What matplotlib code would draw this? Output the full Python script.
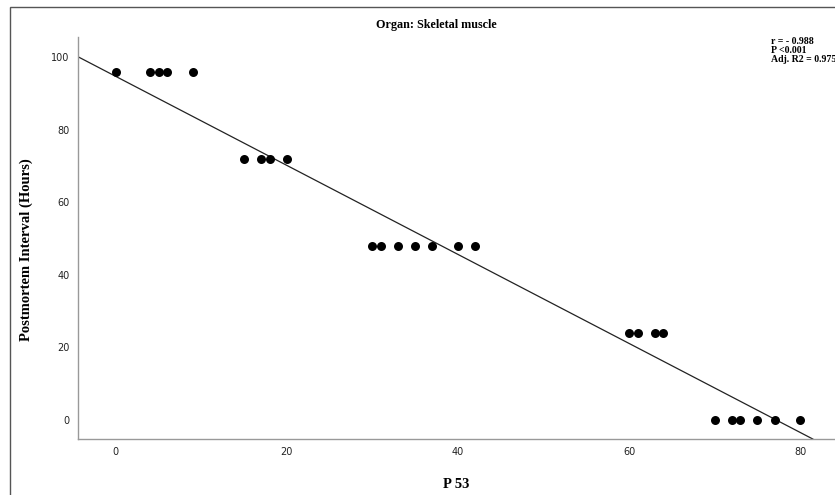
import matplotlib
matplotlib.use("Agg")
import matplotlib.pyplot as plt
from matplotlib.patches import Rectangle

# data
p53 = [0, 4, 5, 6, 9,
       15, 17, 18, 20,
       30, 31, 33, 35, 37, 40, 42,
       60, 61, 63, 64,
       70, 72, 73, 75, 77, 80]
hours = [96] * 5 + [72] * 4 + [48] * 7 + [24] * 4 + [0] * 6
x_ticks = [0, 20, 40, 60, 80]
y_ticks = [0, 20, 40, 60, 80, 100]
# fit line as drawn in the reference
fit_intercept = 94.75
fit_slope = -1.228
stats_text = "r = - 0.988\nP <0.001\nAdj. R2 = 0.975"

serif = "Liberation Serif"

fig = plt.figure(figsize=(8.35, 4.95), dpi=100)
ax = fig.add_axes([0.0931, 0.1131, 0.9069, 0.8128])

# outer frame (right/bottom edges fall outside the image)
fig.patches.append(Rectangle((0.012, -0.05), 1.1, 1.0365, transform=fig.transFigure,
                             fill=False, edgecolor="#555555", linewidth=1.0))

ax.scatter(p53, hours, s=42, color="black", zorder=3, linewidths=0)
ax.axline((0, fit_intercept), slope=fit_slope, color="#222222", linewidth=0.9, zorder=2)

ax.set_xlim(-4.44, 84.07)
ax.set_ylim(-5.3, 105.7)
ax.set_xticks(x_ticks)
ax.set_yticks(y_ticks)
ax.tick_params(length=0, labelsize=7, colors="#222222")
ax.tick_params(axis="x", pad=6)
ax.tick_params(axis="y", pad=6)

for side in ["top", "right"]:
    ax.spines[side].set_visible(False)
for side in ["left", "bottom"]:
    ax.spines[side].set_color("#999999")
    ax.spines[side].set_linewidth(1.0)

ax.set_xlabel("P 53", fontfamily=serif, fontweight="bold", fontsize=10.5)
ax.xaxis.set_label_coords(0.4995, -0.0975)
ax.set_ylabel("Postmortem Interval (Hours)", fontfamily=serif, fontweight="bold",
              fontsize=10.5)
ax.yaxis.set_label_coords(-0.059, 0.47)

fig.text(0.523, 0.949, "Organ: Skeletal muscle", fontfamily=serif, fontweight="bold",
         fontsize=8.7, ha="center", va="center")
fig.text(0.923, 0.926, stats_text, fontfamily=serif, fontweight="bold",
         fontsize=7.1, ha="left", va="top", linespacing=1.0)

fig.savefig("out.png", dpi=100)
